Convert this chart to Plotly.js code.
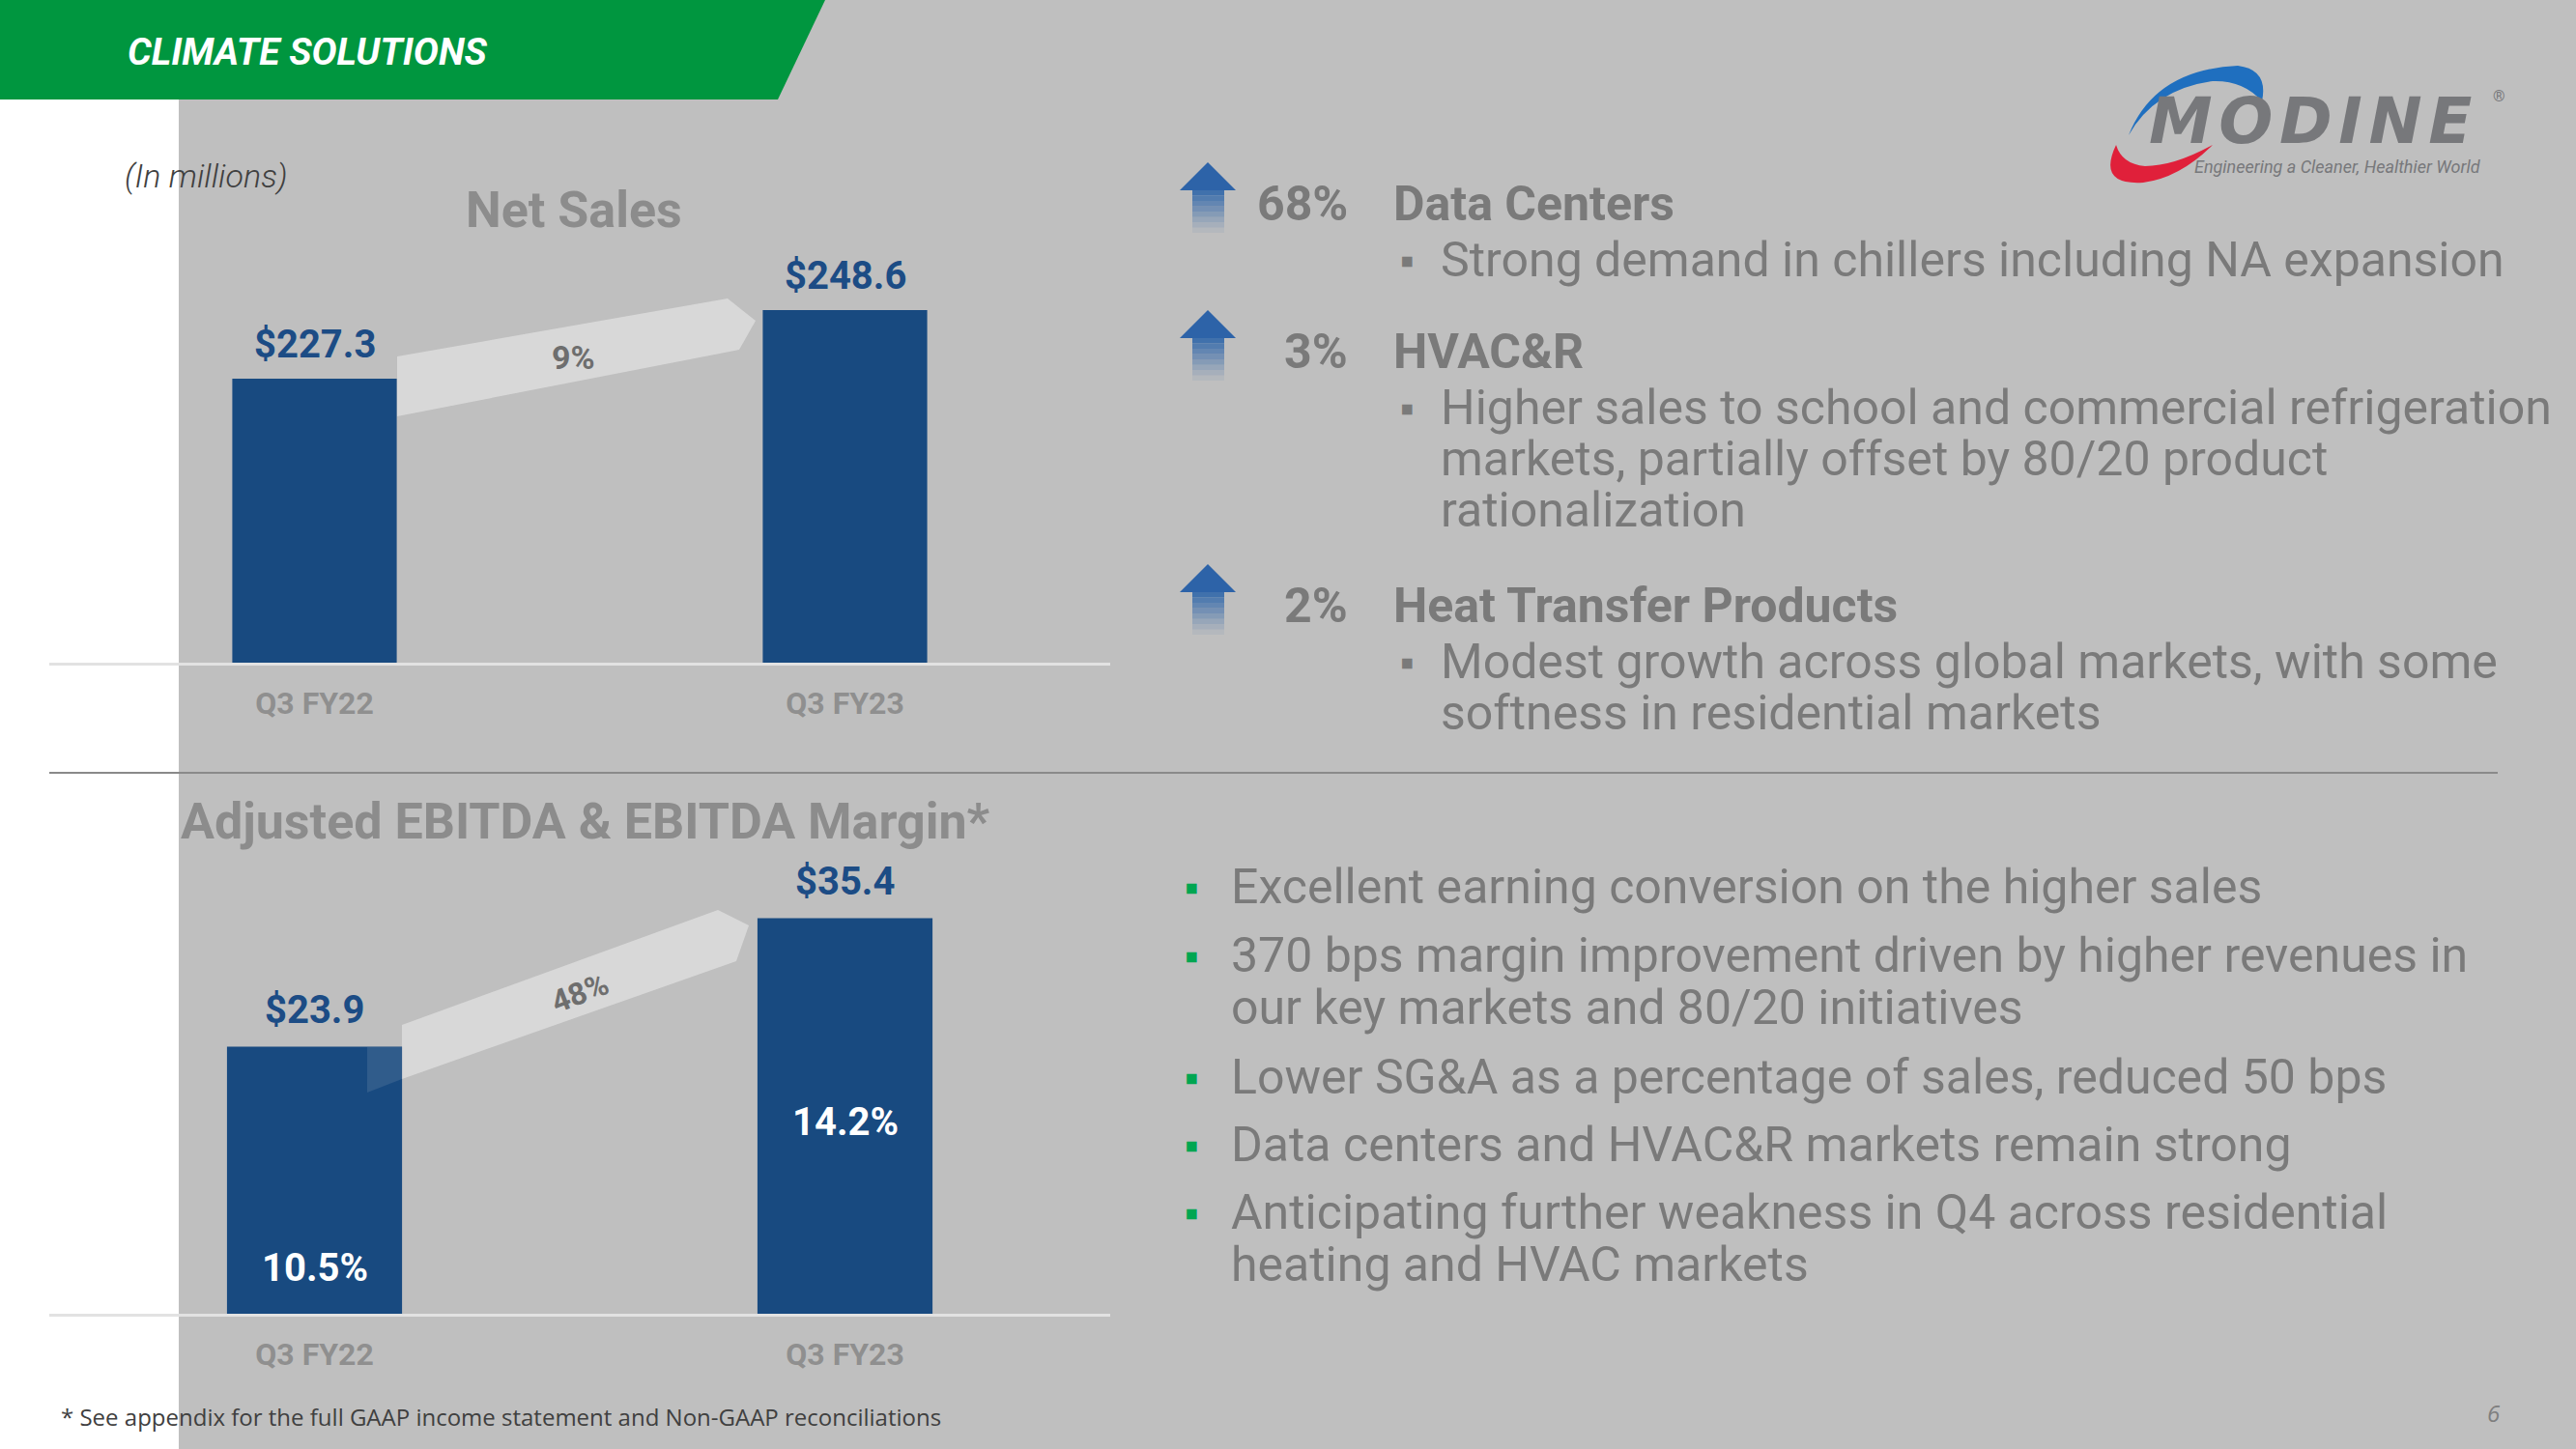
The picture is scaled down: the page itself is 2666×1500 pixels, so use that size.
<!DOCTYPE html>
<html>
<head>
<meta charset="utf-8">
<script src="https://cdn.plot.ly/plotly-3.0.1.min.js"></script>
<style>
  html, body { margin: 0; padding: 0; background: #bfbfbf; }
  #chart { width: 2666px; height: 1500px; }
</style>
</head>
<body>
<div id="chart"></div>
<script>
(function () {
    'use strict';

    // data
    var periods = ['Q3 FY22', 'Q3 FY23'];
    var netSales = [227.3, 248.6];
    var ebitda = [23.9, 35.4];
    var ebitdaMargin = [10.5, 14.2];
    var salesGrowth = '9%';
    var ebitdaGrowth = '48%';

    var segments = ['Data Centers', 'HVAC&R', 'Heat Transfer Products'];
    var segmentGrowth = ['68%', '3%', '2%'];
    var segmentNotes = [
        ['Strong demand in chillers including NA expansion'],
        ['Higher sales to school and commercial refrigeration',
         'markets, partially offset by 80/20 product',
         'rationalization'],
        ['Modest growth across global markets, with some',
         'softness in residential markets']
    ];
    var highlights = [
        ['Excellent earning conversion on the higher sales'],
        ['370 bps margin improvement driven by higher revenues in',
         'our key markets and 80/20 initiatives'],
        ['Lower SG&A as a percentage of sales, reduced 50 bps'],
        ['Data centers and HVAC&R markets remain strong'],
        ['Anticipating further weakness in Q4 across residential',
         'heating and HVAC markets']
    ];

    var W = 2666, H = 1500;
    var GRAY = '#7a7a7a';
    var NAVY = '#1c4c85';
    var BAR = '#184a80';
    var FONT = 'Roboto, "Open Sans", sans-serif';

    function px(x) { return x / W; }
    function py(y) { return 1 - y / H; }
    function path(parts) {
        return parts.map(function (p) {
            return typeof p === 'string' ? p : px(p[0]).toFixed(5) + ',' + py(p[1]).toFixed(5);
        }).join(' ');
    }
    function text(x, y, str, size, color, opts) {
        var a = {
            xref: 'paper', yref: 'paper', x: px(x), y: py(y),
            text: str, showarrow: false, xanchor: 'left', yanchor: 'middle',
            font: {family: FONT, size: size, color: color}
        };
        for (var k in (opts || {})) { a[k] = opts[k]; }
        return a;
    }
    function esc(s) { return s.replace(/&/g, '&amp;'); }

    var traces = [
        {
            type: 'bar', x: periods, y: netSales, xaxis: 'x', yaxis: 'y',
            width: 0.31, marker: {color: BAR}, hoverinfo: 'skip'
        },
        {
            type: 'bar', x: periods, y: ebitda, xaxis: 'x2', yaxis: 'y2',
            width: 0.33, marker: {color: BAR}, hoverinfo: 'skip'
        }
    ];

    var shapes = [];
    var annotations = [];

    // slide frame
    shapes.push({type: 'rect', xref: 'paper', yref: 'paper', layer: 'below',
        x0: 0, x1: px(185), y0: 0, y1: py(103), fillcolor: '#ffffff', line: {width: 0}});
    shapes.push({type: 'path', xref: 'paper', yref: 'paper', layer: 'above',
        path: path(['M', [0, 0], 'L', [854, 0], 'L', [805, 103], 'L', [0, 103], 'Z']),
        fillcolor: '#00963f', line: {width: 0}});
    shapes.push({type: 'line', xref: 'paper', yref: 'paper', layer: 'below',
        x0: px(51), x1: px(2585), y0: py(800), y1: py(800), line: {color: '#8a8a8a', width: 2}});

    annotations.push(text(130, 54, 'CLIMATE SOLUTIONS', 39, '#ffffff',
        {font: {family: FONT, size: 39, color: '#ffffff', weight: 700, style: 'italic'}}));
    annotations.push(text(127, 182, '(In millions)', 34, '#404040',
        {font: {family: FONT, size: 34, color: '#404040', style: 'italic', weight: 300}}));
    annotations.push(text(594, 217, '<b>Net Sales</b>', 52, '#8c8c8c', {xanchor: 'center'}));
    annotations.push(text(606, 850, '<b>Adjusted EBITDA &amp; EBITDA Margin*</b>', 52, '#8c8c8c', {xanchor: 'center'}));

    // growth arrows between bars
    shapes.push({type: 'path', xref: 'paper', yref: 'paper', layer: 'below',
        path: path(['M', [411, 369], 'L', [753, 309], 'L', [782, 332], 'L', [765, 362], 'L', [411, 431], 'Z']),
        fillcolor: 'rgba(222,222,222,0.8)', line: {width: 0}});
    shapes.push({type: 'path', xref: 'paper', yref: 'paper', layer: 'below',
        path: path(['M', [416, 1061], 'L', [743, 942], 'L', [775, 958], 'L', [762, 995], 'L', [416, 1117], 'Z']),
        fillcolor: 'rgba(222,222,222,0.8)', line: {width: 0}});
    shapes.push({type: 'path', xref: 'paper', yref: 'paper', layer: 'above',
        path: path(['M', [380, 1084], 'L', [416, 1084], 'L', [416, 1117], 'L', [380, 1131], 'Z']),
        fillcolor: 'rgba(222,222,222,0.12)', line: {width: 0}});
    annotations.push(text(593, 370, '<b>' + salesGrowth + '</b>', 34, '#6e6e6e', {xanchor: 'center'}));
    annotations.push(text(600, 1028, '<b>' + ebitdaGrowth + '</b>', 32, '#6e6e6e', {xanchor: 'center', textangle: -21}));

    // bar labels
    periods.forEach(function (p, i) {
        annotations.push({xref: 'x', yref: 'y', x: p, y: netSales[i], yshift: 35, yanchor: 'middle',
            text: '<b>$' + netSales[i].toFixed(1) + '</b>', showarrow: false,
            font: {family: FONT, size: 40, color: NAVY}});
        annotations.push({xref: 'x2', yref: 'y2', x: p, y: ebitda[i], yshift: 38, yanchor: 'middle',
            text: '<b>$' + ebitda[i].toFixed(1) + '</b>', showarrow: false,
            font: {family: FONT, size: 40, color: NAVY}});
        annotations.push({xref: 'x2', yref: 'paper', x: p, y: py(i === 0 ? 1312 : 1161), yanchor: 'middle',
            text: '<b>' + ebitdaMargin[i].toFixed(1) + '%</b>', showarrow: false,
            font: {family: FONT, size: 40, color: '#ffffff'}});
    });

    // segment commentary
    var segY = [211, 364, 627];
    segments.forEach(function (s, i) {
        var y = segY[i];
        var tip = y - 43;
        shapes.push({type: 'path', xref: 'paper', yref: 'paper', layer: 'above',
            path: path(['M', [1250, tip], 'L', [1279, tip + 29], 'L', [1221, tip + 29], 'Z']),
            fillcolor: '#2d63a8', line: {width: 0}});
        [0.88, 0.76, 0.64, 0.52, 0.4, 0.28, 0.17, 0.07].forEach(function (op, k) {
            shapes.push({type: 'rect', xref: 'paper', yref: 'paper', layer: 'above',
                x0: px(1234), x1: px(1267), y0: py(tip + 29 + k * 5.5), y1: py(tip + 34.5 + k * 5.5),
                fillcolor: 'rgba(47,102,170,' + op + ')', line: {width: 0}});
        });
        annotations.push(text(1397, y, '<b>' + segmentGrowth[i] + '</b>', 50, GRAY, {xanchor: 'right'}));
        annotations.push(text(1440, y, '<b>' + esc(s) + '</b>', 50, GRAY));
        segmentNotes[i].forEach(function (line, j) {
            var ly = y + 58 + j * 53;
            if (j === 0) { annotations.push(text(1447, ly, '\u25AA', 42, GRAY)); }
            annotations.push(text(1489, ly, esc(line), 50, GRAY));
        });
    });

    // EBITDA highlights
    var hlY = [918, 989, 1115, 1185, 1255];
    highlights.forEach(function (lines, i) {
        annotations.push(text(1224, hlY[i], '\u25AA', 42, '#00a651'));
        lines.forEach(function (line, j) {
            annotations.push(text(1272, hlY[i] + j * 54, esc(line), 50, GRAY));
        });
    });

    // logo
    shapes.push({type: 'path', xref: 'paper', yref: 'paper', layer: 'above',
        path: path(['M', [2203, 140], 'Q', [2230, 72], [2316, 68], 'Q', [2348, 72], [2341, 105],
                    'Q', [2322, 83], [2290, 84], 'Q', [2230, 92], [2203, 140], 'Z']),
        fillcolor: '#1f6fbf', line: {width: 0}});
    shapes.push({type: 'path', xref: 'paper', yref: 'paper', layer: 'above',
        path: path(['M', [2190, 150], 'Q', [2170, 192], [2218, 189], 'Q', [2256, 184], [2290, 150],
                    'Q', [2250, 172], [2220, 172], 'Q', [2196, 170], [2190, 150], 'Z']),
        fillcolor: '#e0203a', line: {width: 0}});
    annotations.push(text(2222, 126, 'M\u200AO\u200AD\u200AI\u200AN\u200AE', 66, '#77787b',
        {font: {family: '"DejaVu Sans", sans-serif', size: 66, color: '#77787b', weight: 700, style: 'italic'}}));
    annotations.push(text(2586, 100, '\u00AE', 16, '#77787b', {xanchor: 'center'}));
    annotations.push(text(2570, 173, 'Engineering a Cleaner, Healthier World', 18, '#77787b',
        {xanchor: 'right', font: {family: FONT, size: 18, color: '#77787b', style: 'italic'}}));

    // footer
    annotations.push(text(61, 1466, '* See appendix for the full GAAP income statement and Non-GAAP reconciliations', 24, '#404040',
        {font: {family: '"Open Sans", sans-serif', size: 24, color: '#404040'}}));
    annotations.push(text(2590, 1462, '6', 24, '#7f7f7f',
        {xanchor: 'right', font: {family: '"Open Sans", sans-serif', size: 24, color: '#7f7f7f', style: 'italic'}}));

    var xaxisBase = {
        type: 'category', domain: [px(51), px(1149)],
        showline: true, linecolor: '#e2e2e2', linewidth: 3,
        showgrid: false, zeroline: false, ticks: '', ticklabelstandoff: 12,
        tickfont: {family: FONT, size: 32, color: '#8f8f8f', weight: 700},
        fixedrange: true
    };

    var layout = {
        width: W, height: H,
        margin: {l: 0, r: 0, t: 0, b: 0},
        paper_bgcolor: '#bfbfbf', plot_bgcolor: 'rgba(0,0,0,0)',
        showlegend: false, hovermode: false,
        xaxis: Object.assign({}, xaxisBase, {anchor: 'y'}),
        yaxis: {domain: [py(686), py(250)], range: [139.1, 269.9], visible: false, fixedrange: true},
        xaxis2: Object.assign({}, xaxisBase, {anchor: 'y2'}),
        yaxis2: {domain: [py(1360), py(880)], range: [0, 41.5], visible: false, fixedrange: true},
        shapes: shapes,
        annotations: annotations
    };

    Plotly.newPlot('chart', traces, layout, {staticPlot: true, displayModeBar: false});
})();
</script>
</body>
</html>
